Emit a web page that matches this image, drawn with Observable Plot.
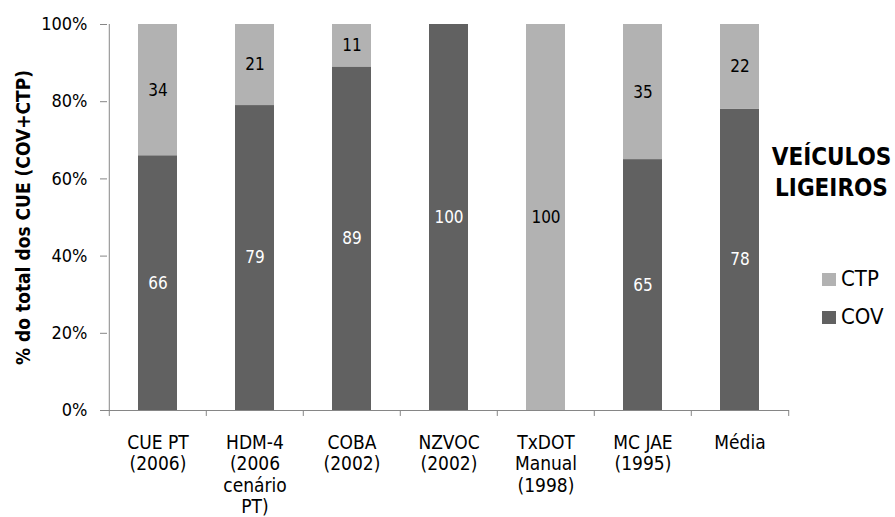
<!DOCTYPE html>
<html>
<head>
<meta charset="utf-8">
<script src="https://cdn.jsdelivr.net/npm/d3@7"></script>
<script src="https://cdn.jsdelivr.net/npm/@observablehq/plot@0.6"></script>
<style>
  html, body { margin: 0; padding: 0; background: #fff; }
  #chart { width: 895px; height: 517px; }
</style>
</head>
<body>
<div id="chart"></div>
<script>
// ---- data ----
const categories = ["CUE PT (2006)", "HDM-4 (2006 cenário PT)", "COBA (2002)", "NZVOC (2002)", "TxDOT Manual (1998)", "MC JAE (1995)", "Média"];
const categoryLabels = ["CUE PT\n(2006)", "HDM-4\n(2006\ncenário\nPT)", "COBA\n(2002)", "NZVOC\n(2002)", "TxDOT\nManual\n(1998)", "MC JAE\n(1995)", "Média"];
const series = ["COV", "CTP"];
const covValues = [66, 79, 89, 100, 0, 65, 78];
const ctpValues = [34, 21, 11, 0, 100, 35, 22];
const yTicks = [0, 20, 40, 60, 80, 100];
const seriesColors = {COV: "#616161", CTP: "#b2b2b2"};
const labelColors = {COV: "#ffffff", CTP: "#000000"};
const yTitle = "% do total dos CUE (COV+CTP)";
const chartTitle = "VEÍCULOS\nLIGEIROS";
const legendOrder = ["CTP", "COV"];

const rows = [];
categories.forEach((c, i) => {
  rows.push({cat: c, serie: "COV", value: covValues[i]});
  rows.push({cat: c, serie: "CTP", value: ctpValues[i]});
});
const data = rows.filter(d => d.value > 0);
const labelOf = new Map(categories.map((c, i) => [c, categoryLabels[i]]));

const W = 895, H = 517;
const mL = 107, mR = 106, mT = 24, mB = 107;
const step = (W - mL - mR) / categories.length;
const axisColor = "#868686";
const font = "'DejaVu Sans Condensed', 'DejaVu Sans', sans-serif";

const plot = Plot.plot({
  width: W,
  height: H,
  marginLeft: mL,
  marginRight: mR,
  marginTop: mT,
  marginBottom: mB,
  style: {fontFamily: font, fontSize: "18px", color: "#000", background: "#fff", overflow: "visible"},
  x: {domain: categories, paddingInner: 0.6, paddingOuter: 0.3, axis: null},
  y: {domain: [0, 100], axis: null},
  marks: [
    Plot.barY(data, Plot.stackY({x: "cat", y: "value", fill: d => seriesColors[d.serie], inset: 0})),
    Plot.text(data, Plot.stackY({x: "cat", y: "value", text: d => String(d.value), fill: d => labelColors[d.serie], fontSize: 17})),
    Plot.ruleY([0], {stroke: axisColor, strokeWidth: 1}),
    Plot.ruleX([categories[0]], {dx: -step / 2, y1: -1.55, y2: 100, stroke: axisColor}),
    Plot.ruleX(categories.slice(1), {dx: -step / 2, y1: -1.55, y2: 0, stroke: axisColor}),
    Plot.ruleX([categories[categories.length - 1]], {dx: step / 2, y1: -1.55, y2: 0, stroke: axisColor}),
    Plot.axisX({tickFormat: d => labelOf.get(d), tickSize: 0, tickPadding: 23, fontSize: 19, lineHeight: 1.13, stroke: axisColor, fill: "#000", label: null}),
    Plot.axisY({ticks: yTicks, tickFormat: d => d + "%", tickSize: 7, tickPadding: 13, fontSize: 18, stroke: axisColor, fill: "#000", label: null}),
    Plot.text([yTitle], {text: d => d, frameAnchor: "left", dx: -84, rotate: -90, textAnchor: "middle", lineAnchor: "middle", fontSize: 19, fontWeight: "bold", fill: "#000"}),
    Plot.text([chartTitle], {text: d => d, frameAnchor: "top-right", dx: 42, dy: 119, lineAnchor: "top", lineHeight: 1.29, textAnchor: "middle", fontSize: 24, fontWeight: "bold", fill: "#000"})
  ]
});

document.getElementById("chart").appendChild(plot);

// legend on the right
const svg = d3.select(plot);
const lg = svg.append("g").attr("font-family", font).attr("text-anchor", "start");
legendOrder.forEach((s, i) => {
  const y0 = 273 + i * 38;
  lg.append("rect").attr("x", 822).attr("y", y0).attr("width", 14).attr("height", 13).attr("fill", seriesColors[s]);
  lg.append("text").attr("x", 841).attr("y", y0 + 13).attr("font-size", 22).attr("fill", "#000").attr("text-anchor", "start").text(s);
});
</script>
</body>
</html>
